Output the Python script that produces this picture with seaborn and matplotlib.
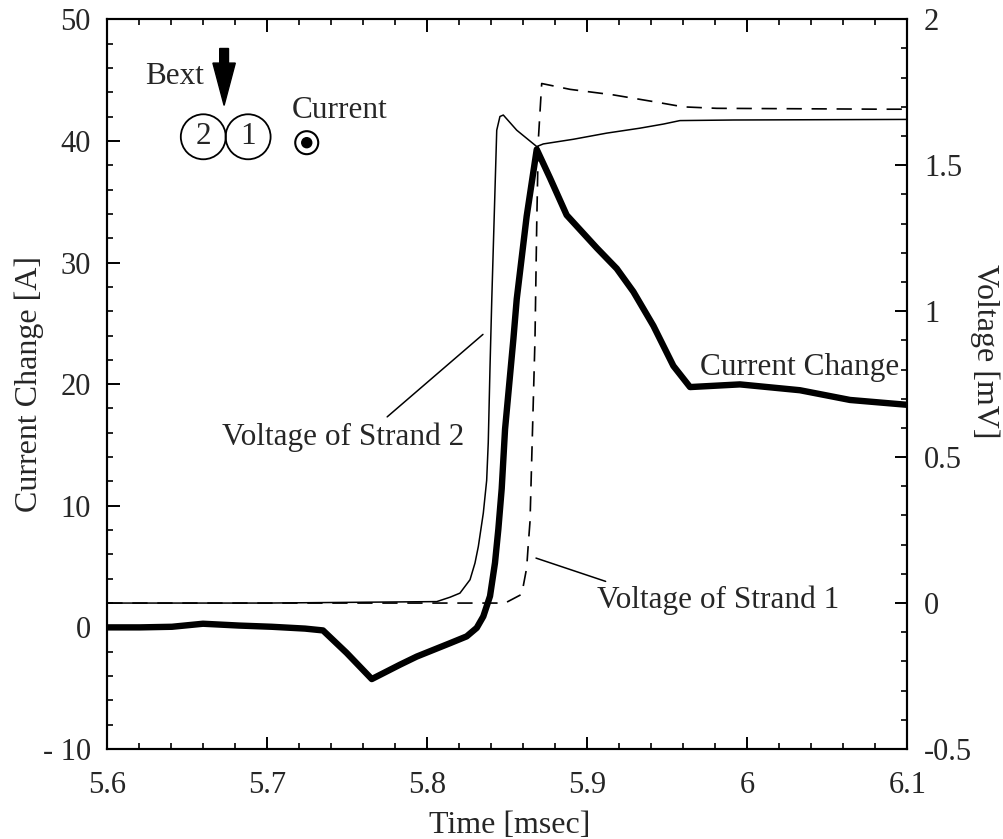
import numpy as np
import pandas as pd
import matplotlib
matplotlib.use("Agg")
import matplotlib.pyplot as plt
from matplotlib.patches import Ellipse, FancyArrow
from matplotlib.ticker import FixedLocator, FixedFormatter, MultipleLocator
import seaborn as sns

# ---------------- data ----------------
# Current change [A] (thick line, left axis)
cur_t = [5.600, 5.6204, 5.6404, 5.6598, 5.6823, 5.7028, 5.7236, 5.7348, 5.7496, 5.7653,
         5.7829, 5.7934, 5.8038, 5.8142, 5.8246, 5.8309, 5.8350, 5.8392, 5.8423, 5.8444,
         5.8465, 5.8486, 5.8538, 5.8559, 5.8621, 5.8684, 5.8767, 5.8871, 5.9059,
         5.9184, 5.9288, 5.9413, 5.9538, 5.9642, 5.9954, 6.0329, 6.0642, 6.100]
cur_i = [0.0, 0.0, 0.05, 0.3, 0.15, 0.05, -0.1, -0.25, -2.1, -4.25,
         -3.07, -2.4, -1.85, -1.3, -0.74, -0.04, 0.9, 2.57, 5.3, 8.07,
         11.4, 16.3, 23.7, 27.0, 33.8, 39.3, 36.95, 33.9, 31.2,
         29.5, 27.6, 24.8, 21.5, 19.76, 19.98, 19.5, 18.7, 18.3]

# Voltage of strand 2 [mV] (thin solid line, right axis)
v2_t = [5.600, 5.700, 5.8059, 5.8142, 5.8204, 5.8267, 5.8298, 5.8319, 5.8350,
        5.8371, 5.8381, 5.8392, 5.8403, 5.8434, 5.8454, 5.8475, 5.8559, 5.8684,
        5.8725, 5.8913, 5.9121, 5.9329, 5.9475, 5.9579, 5.9913, 6.100]
v2_v = [0.0, 0.0, 0.005, 0.02, 0.034, 0.08, 0.137, 0.194, 0.308,
        0.42, 0.55, 0.81, 1.04, 1.62, 1.667, 1.672, 1.62, 1.564,
        1.573, 1.589, 1.61, 1.627, 1.641, 1.653, 1.655, 1.657]

# Voltage of strand 1 [mV] (dashed line, right axis)
v1_t = [5.600, 5.700, 5.800, 5.8486, 5.8590, 5.8621, 5.8631, 5.8642, 5.8673,
        5.8684, 5.8694, 5.8715, 5.8892, 5.9163, 5.9413, 5.9600, 5.9809, 6.0850, 6.100]
v1_v = [0.0, 0.0, 0.0, 0.0, 0.03, 0.12, 0.20, 0.28, 0.903,
        1.30, 1.587, 1.78, 1.76, 1.741, 1.718, 1.70, 1.695, 1.692, 1.692]

x_ticks = [5.6, 5.7, 5.8, 5.9, 6.0, 6.1]
x_labels = ["5.6", "5.7", "5.8", "5.9", "6", "6.1"]
yl_ticks = [-10, 0, 10, 20, 30, 40, 50]
yl_labels = ["- 10", "0", "10", "20", "30", "40", "50"]
yr_ticks = [-0.5, 0, 0.5, 1, 1.5, 2]
yr_labels = ["-0.5", "0", "0.5", "1", "1.5", "2"]

df_cur = pd.DataFrame({"t": cur_t, "val": cur_i})
df_v2 = pd.DataFrame({"t": v2_t, "val": v2_v})
df_v1 = pd.DataFrame({"t": v1_t, "val": v1_v})

# ---------------- style ----------------
sns.set_theme(style="ticks")
plt.rcParams["font.family"] = ["Liberation Serif", "DejaVu Serif"]
plt.rcParams["lines.scale_dashes"] = False
plt.rcParams["axes.linewidth"] = 1.5
plt.rcParams["lines.solid_joinstyle"] = "round"

fig = plt.figure(figsize=(10.04, 8.39), dpi=100)
ax = fig.add_axes([107.3 / 1004, (839 - 749) / 839, 800 / 1004, 729.7 / 839])
ax2 = ax.twinx()

sns.lineplot(data=df_cur, x="t", y="val", ax=ax, color="black", linewidth=4.6,
             estimator=None, sort=False)
sns.lineplot(data=df_v2, x="t", y="val", ax=ax2, color="black", linewidth=1.1,
             estimator=None, sort=False)
l1 = sns.lineplot(data=df_v1, x="t", y="val", ax=ax2, color="black", linewidth=1.2,
                  estimator=None, sort=False)
l1.lines[-1].set_dashes((11, 7))

ax.set_xlim(5.6, 6.1)
ax.set_ylim(-10, 50)
ax2.set_ylim(-0.5, 2)

fs = 22
ax.xaxis.set_major_locator(FixedLocator(x_ticks))
ax.xaxis.set_major_formatter(FixedFormatter(x_labels))
ax.xaxis.set_minor_locator(MultipleLocator(0.02))
ax.yaxis.set_major_locator(FixedLocator(yl_ticks))
ax.yaxis.set_major_formatter(FixedFormatter(yl_labels))
ax.yaxis.set_minor_locator(MultipleLocator(2))
ax2.yaxis.set_major_locator(FixedLocator(yr_ticks))
ax2.yaxis.set_major_formatter(FixedFormatter(yr_labels))
ax2.yaxis.set_minor_locator(MultipleLocator(0.1))

ax.tick_params(axis="x", which="both", direction="in", top=True, bottom=True,
               labelsize=fs, pad=16, color="black")
ax.tick_params(axis="y", which="both", direction="in", left=True, right=False,
               labelsize=fs, pad=12, color="black")
ax2.tick_params(axis="y", which="both", direction="in", right=True, left=False,
                labelsize=fs, pad=12, color="black")
for a in (ax, ax2):
    a.tick_params(which="major", length=9, width=1.4)
    a.tick_params(which="minor", length=4.5, width=1.2)
    for s in a.spines.values():
        s.set_color("black")
        s.set_linewidth(1.5)

lfs = 23
ax.set_xlabel("Time [msec]", fontsize=lfs)
ax.xaxis.label.set(va="center", ha="center")
ax.xaxis.set_label_coords(0.503, -0.105)
ax.set_ylabel("Current Change [A]", fontsize=lfs)
ax.yaxis.label.set(va="center", ha="center", rotation=90, rotation_mode="default")
ax.yaxis.set_label_coords(-0.097, 0.5)
ax2.set_ylabel("Voltage [mV]", fontsize=lfs)
ax2.yaxis.label.set(va="center", ha="center", rotation=-90, rotation_mode="default")
ax2.yaxis.set_label_coords(1.097, 0.545)

# ---------------- annotations ----------------
tfs = 22.5
ax.text(5.6715, 15.65, "Voltage of Strand 2", fontsize=tfs, ha="left", va="center")
ax.annotate("", xy=(5.8361, 24.24), xytext=(5.7736, 17.16),
            arrowprops=dict(arrowstyle="-", lw=1.1, color="black"))
ax.text(5.9059, 2.2, "Voltage of Strand 1", fontsize=tfs, ha="left", va="center")
ax.annotate("", xy=(5.8663, 5.77), xytext=(5.9131, 3.71),
            arrowprops=dict(arrowstyle="-", lw=1.1, color="black"))
ax.text(5.9704, 21.4, "Current Change", fontsize=tfs, ha="left", va="center")

# inset sketch (axes-fraction coordinates)
ax.text(0.047, 0.921, "Bext", transform=ax.transAxes, fontsize=tfs, ha="left", va="center")
ax.add_patch(FancyArrow(0.146, 0.960, 0, -0.078, width=0.011, head_width=0.028,
                        head_length=0.058, length_includes_head=True,
                        color="black", transform=ax.transAxes))
rw, rh = 45 / 800, 45 / 729.7
for cx, lab in [(0.120, "2"), (0.176, "1")]:
    ax.add_patch(Ellipse((cx, 0.839), rw, rh, transform=ax.transAxes,
                         fill=False, edgecolor="black", lw=1.3))
    ax.text(cx, 0.839, lab, transform=ax.transAxes, fontsize=tfs,
            ha="center", va="center")
ax.text(0.2305, 0.8757, "Current", transform=ax.transAxes, fontsize=tfs,
        ha="left", va="center")
ax.add_patch(Ellipse((0.2493, 0.8309), 23 / 800, 23 / 729.7, transform=ax.transAxes,
                     fill=False, edgecolor="black", lw=1.5))
ax.add_patch(Ellipse((0.2493, 0.8309), 10 / 800, 10 / 729.7, transform=ax.transAxes,
                     facecolor="black", edgecolor="black"))

fig.savefig("out.png", dpi=100, facecolor="white")
